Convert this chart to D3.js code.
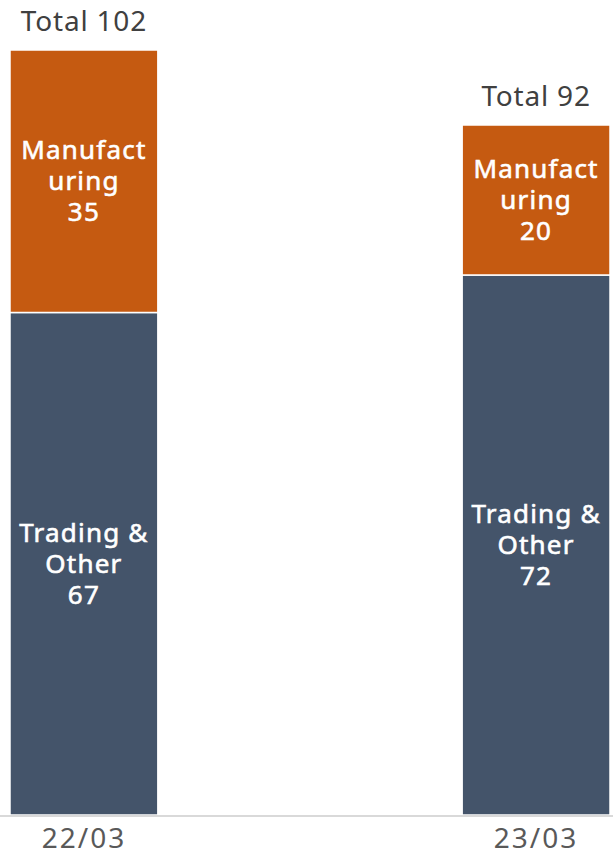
<!DOCTYPE html>
<html>
<head>
<meta charset="utf-8">
<script src="https://cdn.jsdelivr.net/npm/d3@7"></script>
<style>
  html, body { margin: 0; padding: 0; background: #fff; }
  svg { display: block; font-family: "Noto Sans", "Open Sans", sans-serif; }
</style>
</head>
<body>
<svg id="chart"></svg>
<script>
// Data
const periods = ['22/03', '23/03'];
const trading = [67, 72];
const manufacturing = [35, 20];
const segmentNames = [['Trading &', 'Other'], ['Manufact', 'uring']];
const colors = ['#44546A', '#C55A11'];

const width = 613, height = 856;
const baseY = 815;

const svg = d3.select('#chart')
    .attr('width', width)
    .attr('height', height);

const x = d3.scaleBand()
    .domain(periods)
    .range([10, 610])
    .paddingInner(0.673)
    .paddingOuter(0);

const y = d3.scaleLinear()
    .domain([0, 102])
    .range([baseY, 50]);

// Build stacked data
const rows = periods.map((p, i) => ({ period: p, trading: trading[i], manufacturing: manufacturing[i] }));
const stack = d3.stack().keys(['trading', 'manufacturing']);
const series = stack(rows);

// Bars
series.forEach((s, si) => {
    const g = svg.append('g');
    g.selectAll('rect')
        .data(s)
        .enter().append('rect')
        .attr('x', d => x(d.data.period))
        .attr('y', d => y(d[1]))
        .attr('width', x.bandwidth())
        .attr('height', d => y(d[0]) - y(d[1]))
        .style('fill', colors[si])
        .style('stroke', '#fff')
        .style('stroke-width', 1.5);

    // Segment labels, one text per line
    s.forEach(d => {
        const cx = x(d.data.period) + x.bandwidth() / 2;
        const cy = (y(d[0]) + y(d[1])) / 2;
        const lines = segmentNames[si].concat([String(d[1] - d[0])]);
        lines.forEach((ln, li) => {
            g.append('text')
                .attr('x', cx)
                .attr('y', cy + (li - 1) * 31)
                .attr('dy', '0.35em')
                .style('text-anchor', 'middle')
                .style('fill', '#fff')
                .style('stroke', '#fff')
                .style('stroke-width', 0.6)
                .style('font-size', '26px')
                .style('letter-spacing', '1.2px')
                .text(ln);
        });
    });
});

// Totals
rows.forEach(r => {
    const total = r.trading + r.manufacturing;
    svg.append('text')
        .attr('x', x(r.period) + x.bandwidth() / 2)
        .attr('y', y(total) - 29)
        .attr('dy', '0.35em')
        .style('text-anchor', 'middle')
        .style('fill', '#404040')
        .style('font-size', '28px')
        .style('letter-spacing', '0.8px')
        .text('Total ' + total);
});

// Baseline
svg.append('line')
    .attr('x1', 0)
    .attr('x2', width)
    .attr('y1', baseY + 1)
    .attr('y2', baseY + 1)
    .style('stroke', '#D9D9D9')
    .style('stroke-width', 2);

// X axis labels
const xAxis = svg.append('g')
    .attr('transform', `translate(0,${baseY})`)
    .call(d3.axisBottom(x).tickSize(0).tickPadding(13));
xAxis.select('.domain').remove();
xAxis.selectAll('text')
    .style('font-family', '"Noto Sans", "Open Sans", sans-serif')
    .style('font-size', '28px')
    .style('letter-spacing', '2px')
    .style('fill', '#595959');
</script>
</body>
</html>
